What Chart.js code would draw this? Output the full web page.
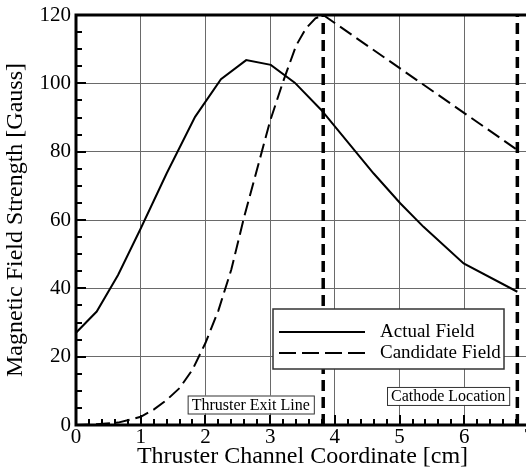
<!DOCTYPE html>
<html>
<head>
<meta charset="utf-8">
<script src="https://cdn.jsdelivr.net/npm/chart.js@4.4.1/dist/chart.umd.min.js"></script>
<style>
  html, body { margin: 0; padding: 0; overflow: hidden; background: #fff; }
  #wrap { width: 526px; height: 470px; overflow: hidden; }
</style>
</head>
<body>
<div id="wrap"><canvas id="myChart" width="540" height="470"></canvas></div>
<script>
// field along the thruster channel
var actualX = [0, 0.32, 0.65, 1.0, 1.4, 1.84, 2.24, 2.63, 3.01, 3.38, 3.79, 4.6, 5.01, 5.37, 5.99, 6.82];
var actualY = [27, 33.2, 43.9, 57.5, 73.6, 90.2, 101.2, 106.8, 105.4, 100.2, 92.2, 73.6, 64.9, 58.0, 47.3, 39.0];

var candX = [0, 0.3, 0.65, 1.0, 1.2, 1.4, 1.6, 1.8, 2.0, 2.2, 2.4, 2.6, 2.8, 3.0, 3.2, 3.4, 3.55, 3.7, 3.82, 6.82];
var candY = [0, 0.2, 0.7, 2.4, 4.5, 7.3, 10.8, 16.2, 24, 33.5, 45.5, 61, 75, 89, 100.5, 111, 116, 119, 120, 80.5];

// exit line and cathode position [cm]
var markerX = [3.82, 6.82];
var markerNames = ["Thruster Exit Line", "Cathode Location"];
var seriesNames = ["Actual Field", "Candidate Field"];

var xTicks = [0, 1, 2, 3, 4, 5, 6, 7];
var yTicks = [0, 20, 40, 60, 80, 100, 120];

var serif = "'Liberation Serif', 'Times New Roman', serif";

function pts(xs, ys) {
    var out = [];
    for (var i = 0; i < xs.length; i++) out.push({x: xs[i], y: ys[i]});
    return out;
}

var datasets = [
    {label: seriesNames[0], data: pts(actualX, actualY), borderColor: "#000", borderWidth: 2, pointRadius: 0, tension: 0},
    {label: seriesNames[1], data: pts(candX, candY), borderColor: "#000", borderWidth: 2, pointRadius: 0,
     tension: 0, borderDash: [14, 6]}
];
markerX.forEach(function (mx) {
    datasets.push({label: "marker", data: [{x: mx, y: 0}, {x: mx, y: 120}], borderColor: "#000",
                   borderWidth: 3.5, borderDash: [11, 6], pointRadius: 0});
});

var extras = {
    id: "extras",
    afterDatasetsDraw: function (chart) {
        var ctx = chart.ctx, a = chart.chartArea;
        var xs = chart.scales.x, ys = chart.scales.y;
        ctx.save();
        // minor + major ticks, pointing inward
        ctx.strokeStyle = "#000";
        ctx.lineWidth = 2;
        for (var v = 0; v <= 7.001; v += 0.2) {
            var px = Math.round(xs.getPixelForValue(v));
            var major = Math.abs(v - Math.round(v)) < 0.01;
            ctx.beginPath(); ctx.moveTo(px, a.bottom); ctx.lineTo(px, a.bottom - (major ? 10 : 6)); ctx.stroke();
        }
        for (var w = 0; w <= 120; w += 5) {
            var py = Math.round(ys.getPixelForValue(w));
            var maj = w % 20 === 0;
            ctx.beginPath(); ctx.moveTo(a.left, py); ctx.lineTo(a.left + (maj ? 10 : 6), py); ctx.stroke();
        }
        // frame
        ctx.lineWidth = 3;
        ctx.strokeRect(a.left, a.top, a.right - a.left, a.bottom - a.top);

        // marker labels
        ctx.font = "16px " + serif;
        ctx.textBaseline = "middle";
        ctx.textAlign = "center";
        var boxes = [
            {t: markerNames[0], cx: xs.getPixelForValue(2.70), cy: ys.getPixelForValue(6.0)},
            {t: markerNames[1], cx: xs.getPixelForValue(5.75), cy: ys.getPixelForValue(8.5)}
        ];
        boxes.forEach(function (b) {
            var wdt = ctx.measureText(b.t).width + 8, h = 18;
            ctx.fillStyle = "#fff";
            ctx.fillRect(b.cx - wdt / 2, b.cy - h / 2, wdt, h);
            ctx.lineWidth = 1;
            ctx.strokeStyle = "#333";
            ctx.strokeRect(b.cx - wdt / 2 + 0.5, b.cy - h / 2 + 0.5, wdt, h);
            ctx.fillStyle = "#000";
            ctx.fillText(b.t, b.cx, b.cy + 1);
        });

        // legend
        var lx = a.left + 197, ly = a.top + 294, lw = 231, lh = 60;
        ctx.fillStyle = "#fff";
        ctx.fillRect(lx, ly, lw, lh);
        ctx.lineWidth = 1.5;
        ctx.strokeStyle = "#333";
        ctx.strokeRect(lx, ly, lw, lh);
        ctx.strokeStyle = "#000";
        ctx.lineWidth = 2;
        ctx.beginPath(); ctx.moveTo(lx + 6, ly + 23); ctx.lineTo(lx + 92, ly + 23); ctx.stroke();
        ctx.setLineDash([17, 6]);
        ctx.beginPath(); ctx.moveTo(lx + 6, ly + 44); ctx.lineTo(lx + 92, ly + 44); ctx.stroke();
        ctx.setLineDash([]);
        ctx.fillStyle = "#000";
        ctx.textAlign = "left";
        ctx.font = "19px " + serif;
        ctx.fillText(seriesNames[0], lx + 107, ly + 23);
        ctx.fillText(seriesNames[1], lx + 107, ly + 44);
        ctx.restore();
    }
};

new Chart("myChart", {
    type: "line",
    data: {datasets: datasets},
    options: {
        responsive: false,
        animation: false,
        layout: {padding: {left: 0, top: 15, right: 11, bottom: 0}},
        plugins: {legend: {display: false}, tooltip: {enabled: false}},
        scales: {
            x: {
                type: "linear", min: 0, max: 7,
                afterBuildTicks: function (s) { s.ticks = xTicks.map(function (v) { return {value: v}; }); },
                afterFit: function (s) { s.height = 45; },
                grid: {color: "#6a6a6a", lineWidth: 1, drawTicks: false},
                border: {display: false},
                ticks: {color: "#000", padding: 3, font: {family: serif, size: 21, lineHeight: 0.9}, maxRotation: 0},
                title: {display: true, text: "Thruster Channel Coordinate [cm]", color: "#000",
                        font: {family: serif, size: 24}, padding: {top: 0, bottom: -1}}
            },
            y: {
                type: "linear", min: 0, max: 120,
                afterBuildTicks: function (s) { s.ticks = yTicks.map(function (v) { return {value: v}; }); },
                afterFit: function (s) { s.width = 76; },
                grid: {color: "#6a6a6a", lineWidth: 1, drawTicks: false},
                border: {display: false},
                ticks: {color: "#000", padding: 5, font: {family: serif, size: 21, lineHeight: 0.9}},
                title: {display: true, text: "Magnetic Field Strength [Gauss]", color: "#000",
                        font: {family: serif, size: 24}, padding: {top: 1, bottom: 0}}
            }
        }
    },
    plugins: [extras]
});
</script>
</body>
</html>
